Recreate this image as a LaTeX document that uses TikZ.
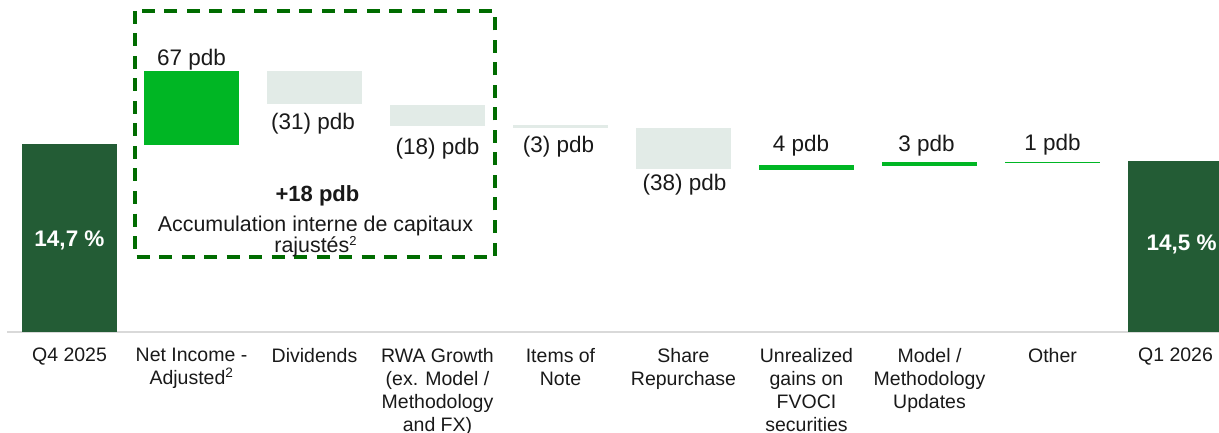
\documentclass[tikz,border=0pt]{standalone}
\usepackage{fontspec}
\setmainfont{Liberation Sans}
\definecolor{darkbar}{RGB}{35,92,53}
\definecolor{upbar}{RGB}{0,182,36}
\definecolor{downbar}{RGB}{226,235,231}
\definecolor{boxgreen}{RGB}{0,108,0}
\definecolor{axisgray}{RGB}{217,217,217}
\tikzset{
  barfill/.style={fill=#1, draw=none},
  vallabel/.style={anchor=base, inner sep=0pt, font=\fontsize{22.5}{25}\selectfont, text=black!90},
  pctlabel/.style={anchor=base, inner sep=0pt, font=\fontsize{22.5}{25}\selectfont\bfseries, text=white},
  catlabel/.style={anchor=north, inner sep=0pt, align=center, font=\fontsize{19.5}{23}\selectfont, text=black!90},
  boxtext/.style={inner sep=0pt, align=center, font=\fontsize{21.4}{20.8}\selectfont, text=black!90},
  accbox/.style={draw=boxgreen, line width=4pt, dash pattern=on 13pt off 9.5pt}
}
\begin{document}
\begin{tikzpicture}[x=1pt,y=-1pt]
\useasboundingbox (0,0) rectangle (1219,433);
% axis
\draw[axisgray, line width=1.6pt] (7,332) coordinate (axL) -- (1219,332) coordinate (axR);
% bars
\fill[barfill=darkbar] (22,144) rectangle (117,332);
\fill[barfill=upbar] (144,71) rectangle (239,145);
\fill[barfill=downbar] (267,71) rectangle (362,104.3);
\fill[barfill=downbar] (390,105) rectangle (485,125.7);
\fill[barfill=downbar] (513,125) rectangle (608,127.7);
\fill[barfill=downbar] (636,128) rectangle (731,169);
\fill[barfill=upbar] (759,165) rectangle (854,170);
\fill[barfill=upbar] (882,161.7) rectangle (977,166);
\fill[barfill=upbar] (1005,161.7) rectangle (1100,163);
\fill[barfill=darkbar] (1128,161) rectangle (1223,332);
% dashed box
\draw[accbox] (135,11) rectangle (495,257);
% percent labels
\node[pctlabel] (p1) at (69.5,247) {14,7 \%};
\node[pctlabel] (p2) at (1181.7,250) {14,5 \%};
% value labels
\node[vallabel] (v1) at (191.5,66) {67 pdb};
\node[vallabel] (v2) at (313,130) {(31) pdb};
\node[vallabel] (v3) at (437.5,155) {(18) pdb};
\node[vallabel] (v4) at (558.5,153) {(3) pdb};
\node[vallabel] (v5) at (684.5,190) {(38) pdb};
\node[vallabel] (v6) at (801,152) {4 pdb};
\node[vallabel] (v7) at (926.5,152) {3 pdb};
\node[vallabel] (v8) at (1052.5,150.5) {1 pdb};
% box text
\node[anchor=base, inner sep=0pt, font=\fontsize{22}{24}\selectfont\bfseries, text=black!90] (b1) at (317.5,202) {+18 pdb};
\node[boxtext, anchor=north] (b2) at (315.5,216.2) {Accumulation interne de capitaux\\rajustés{\fontsize{13}{13}\selectfont\raisebox{0.55em}{2}}};
% category labels
\node[catlabel] (c0) at (69.5,348) {Q4 2025};
\node[catlabel] (c1) at (191.5,348) {Net Income -\\Adjusted\textsuperscript{2}};
\node[catlabel] (c2) at (314.5,348) {Dividends};
\node[catlabel] (c3) at (437.5,348) {RWA Growth\\(ex. Model /\\Methodology\\and FX)};
\node[catlabel] (c4) at (560.5,348) {Items of\\Note};
\node[catlabel] (c5) at (683.5,348) {Share\\Repurchase};
\node[catlabel] (c6) at (806.5,348) {Unrealized\\gains on\\FVOCI\\securities};
\node[catlabel] (c7) at (929.5,348) {Model /\\Methodology\\Updates};
\node[catlabel] (c8) at (1052.5,348) {Other};
\node[catlabel] (c9) at (1175.5,348) {Q1 2026};
\end{tikzpicture}
\end{document}
